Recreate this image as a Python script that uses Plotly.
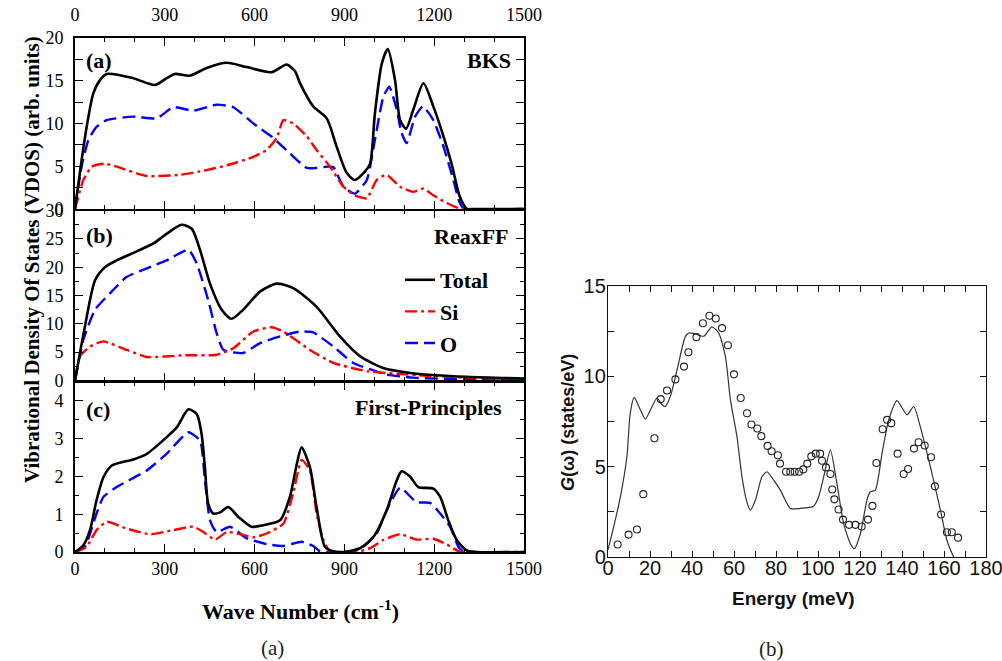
import plotly.graph_objects as go

# ---------------- Panel (a): BKS ----------------
bks_total_w = [0, 22, 39, 61, 84, 106, 195, 267, 306, 334, 384, 440, 507, 574, 657, 707, 735, 752,
               796, 841, 874, 908, 935, 969, 986, 1002, 1025, 1045, 1069, 1086, 1106, 1130, 1164,
               1197, 1231, 1258, 1286, 1310, 1330, 1500]
bks_total = [0, 5.7, 9.6, 13.5, 15.1, 15.8, 15.3, 14.5, 15.3, 15.8, 15.6, 16.5, 17.1, 16.6, 16.0,
             16.9, 16.1, 14.7, 12.0, 10.6, 7.3, 4.2, 3.4, 4.4, 5.3, 11.2, 17.0, 18.7, 15.1, 10.4,
             9.4, 11.6, 14.7, 12.0, 8.5, 5.3, 1.4, 0, 0, 0]
bks_o_w = [0, 22, 45, 72, 106, 195, 273, 328, 395, 473, 529, 596, 663, 718, 774, 807, 841, 863,
           897, 935, 975, 1002, 1030, 1050, 1075, 1091, 1108, 1136, 1162, 1197, 1231, 1264, 1284,
           1300, 1500]
bks_o = [0, 4.95, 8.1, 9.6, 10.4, 10.8, 10.6, 11.9, 11.5, 12.2, 11.9, 10.0, 8.3, 6.5, 4.8, 4.8,
         4.95, 4.9, 2.6, 1.8, 3.4, 8.1, 13.1, 14.3, 11.6, 8.9, 7.7, 10.8, 12.0, 10.4, 7.3, 3.4,
         0.85, 0, 0]
bks_si_w = [0, 28, 56, 100, 139, 240, 351, 418, 507, 596, 640, 674, 696, 729, 774, 807, 852, 897,
            935, 975, 1008, 1041, 1086, 1130, 1164, 1197, 1242, 1281, 1300, 1500]
bks_si = [0, 3.4, 4.95, 5.3, 4.95, 3.86, 4.0, 4.4, 5.1, 6.1, 6.9, 8.3, 10.4, 10.0, 8.5, 6.9, 4.95,
          2.6, 1.6, 1.25, 3.4, 4.0, 2.6, 2.0, 2.4, 1.6, 0.7, 0.1, 0, 0]

# ---------------- Panel (b): ReaxFF ----------------
rx_total_w = [0, 33, 67, 100, 139, 206, 262, 306, 356, 390, 418, 451, 490, 523, 562, 618, 674, 729,
              807, 885, 952, 1030, 1141, 1309, 1500]
rx_total = [0, 9.5, 17.7, 20.0, 21.2, 22.8, 24.2, 25.9, 27.5, 26.8, 23.0, 17.1, 12.5, 10.9, 12.5,
            15.7, 17.1, 16.3, 13.0, 7.8, 4.3, 2.2, 1.2, 0.65, 0.35]
rx_o_w = [0, 28, 67, 117, 173, 240, 306, 379, 407, 445, 473, 496, 562, 618, 685, 752, 796, 863,
          930, 1041, 1130, 1309, 1500]
rx_o = [0, 7.2, 12.5, 15.4, 18.3, 19.8, 21.2, 23.1, 20.6, 14.2, 8.4, 5.4, 4.85, 6.6, 7.8, 8.65,
        8.5, 6.0, 3.1, 1.05, 0.5, 0.2, 0.2]
rx_si_w = [0, 17, 50, 95, 173, 240, 362, 473, 529, 596, 657, 696, 785, 863, 975, 1141, 1309, 1500]
rx_si = [0, 4.3, 6.0, 6.9, 5.4, 4.15, 4.45, 4.55, 5.7, 8.65, 9.4, 8.65, 5.4, 3.1, 1.65, 0.95, 0.5,
         0.2]

# ---------------- Panel (c): First-Principles ----------------
fp_total_w = [0, 28, 50, 72, 95, 123, 195, 240, 306, 340, 379, 407, 423, 434, 445, 462, 485, 512,
              546, 590, 629, 685, 718, 741, 757, 785, 807, 835, 863, 900, 952, 997, 1041, 1075,
              1091, 1119, 1147, 1197, 1220, 1247, 1275, 1309, 1340, 1500]
fp_total = [0, 0.18, 0.58, 1.37, 1.98, 2.29, 2.45, 2.6, 3.04, 3.3, 3.78, 3.65, 3.12, 2.24, 1.28,
            1.02, 1.05, 1.19, 0.93, 0.67, 0.71, 0.84, 1.46, 2.33, 2.77, 2.24, 1.19, 0.14, 0.02, 0,
            0.1, 0.4, 1.1, 1.9, 2.14, 2.0, 1.72, 1.68, 1.46, 0.84, 0.32, 0.04, 0, 0]
fp_o_w = [0, 33, 72, 95, 139, 240, 306, 379, 418, 434, 451, 473, 518, 574, 640, 696, 757, 796, 818,
          850, 930, 963, 1008, 1041, 1086, 1141, 1186, 1220, 1253, 1281, 1300, 1500]
fp_o = [0, 0.14, 1.02, 1.46, 1.72, 2.16, 2.6, 3.17, 2.95, 1.9, 0.84, 0.53, 0.67, 0.36, 0.21, 0.16,
        0.27, 0.16, 0.02, 0, 0.02, 0.14, 0.49, 1.1, 1.7, 1.32, 1.3, 1.02, 0.67, 0.14, 0, 0]
fp_si_w = [0, 39, 72, 106, 173, 251, 328, 395, 429, 468, 507, 552, 596, 640, 696, 729, 757, 785,
           807, 829, 852, 941, 986, 1030, 1086, 1141, 1197, 1242, 1281, 1300, 1500]
fp_si = [0, 0.14, 0.58, 0.8, 0.62, 0.47, 0.58, 0.67, 0.53, 0.33, 0.53, 0.47, 0.39, 0.49, 0.75,
         1.55, 2.44, 2.16, 1.02, 0.33, 0.02, 0, 0.1, 0.32, 0.47, 0.33, 0.35, 0.2, 0.02, 0, 0]

# ---------------- Right figure: G(omega) ----------------
exp_e = [4.6, 9.8, 13.8, 16.8, 22.1, 25.1, 28.1, 32.1, 36.2, 38.3, 42.1, 45.2, 48.3, 51.3, 54.3,
         57.1, 60.0, 63.2, 66.2, 68.3, 71.1, 73.0, 76.0, 77.9, 80.9, 81.9, 84.8, 86.8, 88.9, 91.0,
         93.0, 94.9, 96.8, 98.9, 101.0, 101.9, 103.8, 105.9, 106.8, 107.8, 109.8, 111.9, 114.8,
         117.8, 120.8, 123.8, 125.9, 127.8, 130.8, 132.9, 134.9, 137.9, 140.8, 142.9, 145.7,
         147.9, 150.8, 153.8, 155.7, 158.6, 161.4, 163.7, 166.7]
exp_g = [0.69, 1.24, 1.52, 3.48, 6.57, 8.74, 9.22, 9.83, 10.54, 11.33, 12.17, 12.94, 13.35, 13.2,
         12.67, 11.72, 10.11, 8.8, 7.96, 7.33, 7.11, 6.69, 6.15, 5.85, 5.63, 5.17, 4.72, 4.72,
         4.72, 4.72, 4.85, 5.17, 5.57, 5.72, 5.72, 5.33, 4.96, 4.59, 3.74, 3.19, 2.63, 2.07, 1.78,
         1.78, 1.69, 2.07, 2.83, 5.2, 7.07, 7.59, 7.41, 5.72, 4.59, 4.87, 6.0, 6.35, 6.17, 5.52,
         3.91, 2.35, 1.37, 1.37, 1.07]
calc_e = [0, 2.7, 5.9, 9.0, 10.6, 12.5, 15.4, 17.8, 21.0, 23.3, 25.7, 27.3, 29.7, 32.9, 36.8, 38.4,
          40.8, 45.6, 49.5, 52.7, 55.9, 58.3, 61.4, 63.8, 65.9, 67.8, 70.2, 73.3, 75.7, 78.9, 82.1,
          86.8, 91.6, 97.9, 100.3, 102.7, 105.9, 109.0, 112.2, 115.4, 117.3, 120.2, 123.3, 124.9,
          127.3, 130.5, 133.7, 137.6, 142.4, 145.6, 148.7, 153.5, 158.3, 161.4, 164.6, 166.0]
calc_g = [0.4, 1.67, 3.33, 5.56, 7.96, 8.83, 8.15, 7.63, 8.33, 8.8, 8.43, 8.33, 8.89, 10.37, 12.2,
          12.4, 12.37, 12.22, 12.74, 12.4, 11.1, 8.7, 6.67, 4.44, 3.15, 2.59, 3.15, 4.44, 4.72,
          4.26, 3.7, 2.69, 2.69, 2.81, 3.33, 4.44, 5.93, 4.07, 1.85, 0.74, 0.46, 1.3, 3.15, 3.61,
          3.7, 5.74, 7.59, 8.65, 7.87, 8.33, 7.22, 5.0, 2.59, 0.93, 0.0, -0.3]

W, H = 1002, 661
SERIF = "Liberation Serif"
SANS = "Liberation Sans"


def px(x):
    return x / W


def py(y):
    return 1 - y / H


fig = go.Figure()

red = "#FF0000"
blue = "#0000FF"
total_line = dict(color="black", width=2.6, shape="spline", smoothing=0.7)
si_line = dict(color=red, width=2.4, dash="12px,4px,3px,4px", shape="spline", smoothing=0.5)
o_line = dict(color=blue, width=2.4, dash="13px,6px", shape="spline", smoothing=0.5)

panels = [
    ("x", "y", bks_total_w, bks_total, bks_si_w, bks_si, bks_o_w, bks_o),
    ("x2", "y2", rx_total_w, rx_total, rx_si_w, rx_si, rx_o_w, rx_o),
    ("x3", "y3", fp_total_w, fp_total, fp_si_w, fp_si, fp_o_w, fp_o),
]
for i, (xa, ya, tw, tv, sw, sv, ow, ov) in enumerate(panels):
    in_legend = (i == 1)  # the legend sits in panel (b)
    fig.add_trace(go.Scatter(x=ow, y=ov, mode="lines", line=o_line, name="O",
                             xaxis=xa, yaxis=ya, showlegend=in_legend, legendrank=3))
    fig.add_trace(go.Scatter(x=sw, y=sv, mode="lines", line=si_line, name="Si",
                             xaxis=xa, yaxis=ya, showlegend=in_legend, legendrank=2))
    fig.add_trace(go.Scatter(x=tw, y=tv, mode="lines", line=total_line, name="Total",
                             xaxis=xa, yaxis=ya, showlegend=in_legend, legendrank=1))

# empty trace so the top tick-label axis of panel (a) is drawn
fig.add_trace(go.Scatter(x=[], y=[], xaxis="x5", yaxis="y", showlegend=False))

fig.add_trace(go.Scatter(x=calc_e, y=calc_g, mode="lines", xaxis="x4", yaxis="y4",
                         line=dict(color="#333333", width=1.2, shape="spline", smoothing=0.6),
                         showlegend=False, name="calc"))
fig.add_trace(go.Scatter(x=exp_e, y=exp_g, mode="markers", xaxis="x4", yaxis="y4",
                         marker=dict(symbol="circle-open", size=7, color="#222222",
                                     line=dict(width=1.1)),
                         showlegend=False, name="exp"))

# panel edges (pixel rows) of the three stacked panels; the lower panel of each
# pair starts one line-width lower so the shared frame lines coincide
LW = 1.6
TOP_A, AB, BC, BOT_C = 38, 209.0, 380.5, 552

left_dom = [px(75), px(524)]
ax_common = dict(showline=True, linecolor="black", linewidth=LW, mirror="allticks",
                 ticks="inside", tickcolor="black", tickwidth=1.4, showgrid=False,
                 zeroline=False)
tick_font = dict(family=SERIF, size=18, color="black")
minor_x = dict(dtick=100, ticklen=4, ticks="inside", tickcolor="black", tickwidth=1.4)

xcommon = dict(ax_common, range=[0, 1500], dtick=300, tick0=0, ticklen=8, minor=minor_x,
               domain=left_dom, tickfont=tick_font)
fig.update_layout(
    xaxis=dict(xcommon, anchor="y", showticklabels=False),
    xaxis2=dict(xcommon, anchor="y2", showticklabels=False),
    xaxis3=dict(xcommon, anchor="y3", showticklabels=True, ticklabelstandoff=0),
    xaxis5=dict(range=[0, 1500], dtick=300, tick0=0, overlaying="x", side="top", anchor="y",
                showline=False, ticks="", showgrid=False, zeroline=False, tickfont=tick_font,
                ticklabelstandoff=12),
)


def minor_y(step):
    return dict(dtick=step, ticklen=4, ticks="inside", tickcolor="black", tickwidth=1.4)


ycommon = dict(ax_common, ticklen=8, tickfont=tick_font, ticklabelstandoff=6)
fig.update_layout(
    yaxis=dict(ycommon, anchor="x", range=[0, 20], dtick=5, domain=[py(AB), py(TOP_A)],
               minor=minor_y(2.5)),
    yaxis2=dict(ycommon, anchor="x2", range=[0, 30], dtick=5,
                domain=[py(BC), py(AB + LW)], minor=minor_y(2.5)),
    yaxis3=dict(ycommon, anchor="x3", range=[0, 4.5], dtick=1,
                domain=[py(BOT_C), py(BC + LW)], minor=minor_y(0.5)),
)

rcommon = dict(showline=True, linecolor="#111111", linewidth=1.3, mirror="allticks",
               ticks="inside", tickcolor="#111111", tickwidth=1.1, ticklen=6, showgrid=False,
               zeroline=False, tickfont=dict(family=SANS, size=20, color="#111111"),
               ticklabeloverflow="allow")
minor_r = dict(ticklen=6, ticks="inside", tickcolor="#111111", tickwidth=1.1)
fig.update_layout(
    xaxis4=dict(rcommon, anchor="y4", domain=[px(608), px(986)], range=[0, 180], dtick=20,
                minor=dict(minor_r, dtick=10), ticklabelstandoff=-7),
    yaxis4=dict(rcommon, anchor="x4", domain=[py(557), py(286)], range=[0, 15], dtick=5,
                minor=dict(minor_r, dtick=2.5), ticklabelstandoff=-3),
)

bold22 = dict(family=SERIF, size=22, color="black")
annotations = [
    dict(text="<b>Vibrational Density Of States (VDOS) (arb. units)</b>", x=px(32), y=py(260),
         textangle=-90, font=dict(family=SERIF, size=21, color="black")),
    dict(text="<b>Wave Number (cm<sup>-1</sup>)</b>", x=px(300), y=py(610), font=bold22),
    dict(text="<b>(a)</b>", x=px(84), y=py(60), xanchor="left", font=bold22),
    dict(text="<b>BKS</b>", x=px(513), y=py(60), xanchor="right", font=bold22),
    dict(text="<b>(b)</b>", x=px(84), y=py(236), xanchor="left", font=bold22),
    dict(text="<b>ReaxFF</b>", x=px(511), y=py(237), xanchor="right", font=bold22),
    dict(text="<b>(c)</b>", x=px(84), y=py(410), xanchor="left", font=bold22),
    dict(text="<b>First-Principles</b>", x=px(504), y=py(407), xanchor="right", font=bold22),
    dict(text="<b><i>G</i>(ω) (states/eV)</b>", x=px(568), y=py(423), textangle=-90,
         font=dict(family=SANS, size=18, color="#111111")),
    dict(text="<b>Energy (meV)</b>", x=px(793), y=py(598),
         font=dict(family=SANS, size=19, color="#111111")),
    dict(text="(a)", x=px(272), y=py(648), font=dict(family=SERIF, size=21, color="#222222")),
    dict(text="(b)", x=px(771), y=py(649), font=dict(family=SERIF, size=21, color="#222222")),
]
for a in annotations:
    a.setdefault("xanchor", "center")
    a.update(xref="paper", yref="paper", showarrow=False, yanchor="middle")

fig.update_layout(
    width=W, height=H,
    margin=dict(l=0, r=0, t=0, b=0, pad=0, autoexpand=False),
    paper_bgcolor="white", plot_bgcolor="white",
    annotations=annotations,
    legend=dict(x=px(400), y=py(259), xanchor="left", yanchor="top",
                bgcolor="rgba(0,0,0,0)",
                font=dict(family=SERIF, size=22, color="black", weight="bold"),
                traceorder="normal", tracegroupgap=0),
)

fig.write_html("out.html")
